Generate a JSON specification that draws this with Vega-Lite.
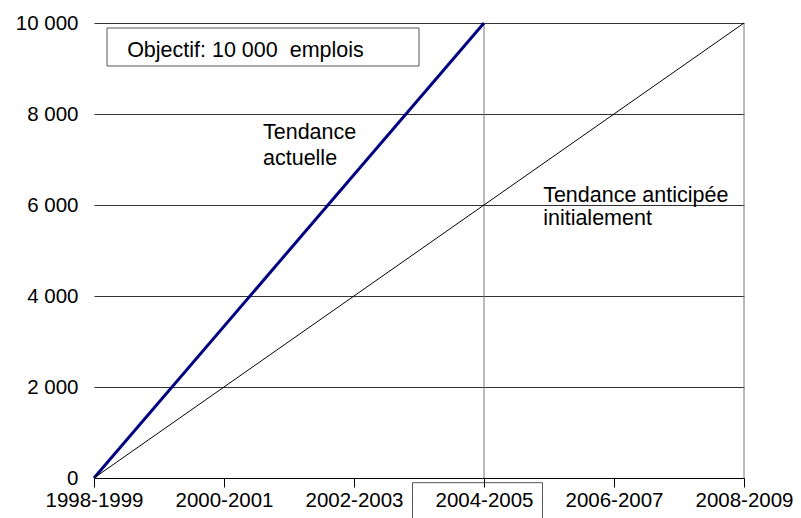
{
  "$schema": "https://vega.github.io/schema/vega-lite/v6.json",
  "width": 650,
  "height": 455,
  "autosize": {"type": "none"},
  "padding": {"left": 94, "top": 23, "right": 57, "bottom": 40},
  "background": "white",
  "config": {
    "view": {"stroke": null},
    "font": "Liberation Sans",
    "text": {"font": "Liberation Sans", "fontSize": 21.5, "color": "black"}
  },
  "datasets": {
    "lines": [
      {"annee": 1998, "emplois": 0, "serie": "Tendance actuelle"},
      {"annee": 2004, "emplois": 10000, "serie": "Tendance actuelle"},
      {"annee": 1998, "emplois": 0, "serie": "Tendance anticipée initialement"},
      {"annee": 2008, "emplois": 10000, "serie": "Tendance anticipée initialement"}
    ],
    "vrules": [
      {"annee": 2004, "bas": 0, "haut": 10000},
      {"annee": 2008, "bas": 0, "haut": 10000}
    ],
    "labels": [
      {"annee": 2000.6, "emplois": 7451, "texte": "Tendance"},
      {"annee": 2000.6, "emplois": 6879, "texte": "actuelle"},
      {"annee": 2004.91, "emplois": 6066, "texte": "Tendance anticipée"},
      {"annee": 2004.91, "emplois": 5560, "texte": "initialement"},
      {"annee": 1998.51, "emplois": 9253, "texte": "Objectif: 10 000 \u00a0emplois"}
    ],
    "boxObjectif": [
      {"x1": 1998.2, "x2": 2003.0, "y1": 9055, "y2": 9890}
    ],
    "boxEtiquette": [
      {"x1": 2002.9, "x2": 2004.9, "y1": -1500, "y2": -103}
    ]
  },
  "layer": [
    {
      "data": {"name": "lines"},
      "mark": {"type": "line", "strokeWidth": 0},
      "encoding": {
        "x": {
          "field": "annee", "type": "quantitative",
          "scale": {"domain": [1998, 2008], "nice": false, "zero": false},
          "axis": {
            "title": null, "values": [1998, 2000, 2002, 2004, 2006, 2008],
            "labelExpr": "datum.value + '-' + (datum.value + 1)",
            "grid": false, "domainColor": "black", "domainWidth": 1,
            "tickColor": "black", "tickSize": 9, "labelPadding": 3,
            "labelFontSize": 20.5, "labelFont": "Liberation Sans", "labelColor": "black",
            "labelFlush": false, "labelOverlap": false
          }
        },
        "y": {
          "field": "emplois", "type": "quantitative",
          "scale": {"domain": [0, 10000], "nice": false},
          "axis": {
            "title": null, "values": [0, 2000, 4000, 6000, 8000, 10000],
            "labelExpr": "replace(format(datum.value, ','), ',', ' ')",
            "domain": false, "ticks": false, "tickSize": 0, "labelPadding": 16,
            "grid": true, "gridColor": "#333333", "gridWidth": 1, "gridOpacity": 1,
            "labelFontSize": 20.5, "labelFont": "Liberation Sans", "labelColor": "black",
            "labelFlush": false, "labelOverlap": false
          }
        },
        "detail": {"field": "serie"}
      }
    },
    {
      "data": {"name": "vrules"},
      "mark": {"type": "rule", "color": "#777777", "strokeWidth": 1},
      "encoding": {
        "x": {"field": "annee", "type": "quantitative"},
        "y": {"field": "bas", "type": "quantitative"},
        "y2": {"field": "haut"}
      }
    },
    {
      "data": {"name": "boxObjectif"},
      "mark": {"type": "rect", "fill": "white", "stroke": "#555555", "strokeWidth": 1},
      "encoding": {
        "x": {"field": "x1", "type": "quantitative"},
        "x2": {"field": "x2"},
        "y": {"field": "y1", "type": "quantitative"},
        "y2": {"field": "y2"}
      }
    },
    {
      "data": {"name": "boxEtiquette"},
      "mark": {"type": "rect", "fill": null, "fillOpacity": 0, "stroke": "#555555", "strokeWidth": 1, "clip": false},
      "encoding": {
        "x": {"field": "x1", "type": "quantitative"},
        "x2": {"field": "x2"},
        "y": {"field": "y1", "type": "quantitative"},
        "y2": {"field": "y2"}
      }
    },
    {
      "data": {"name": "lines"},
      "mark": {"type": "line", "clip": false},
      "encoding": {
        "x": {"field": "annee", "type": "quantitative"},
        "y": {"field": "emplois", "type": "quantitative"},
        "color": {
          "field": "serie", "type": "nominal",
          "scale": {"domain": ["Tendance actuelle", "Tendance anticipée initialement"], "range": ["#000080", "#000000"]},
          "legend": null
        },
        "strokeWidth": {
          "field": "serie", "type": "nominal",
          "scale": {"domain": ["Tendance actuelle", "Tendance anticipée initialement"], "range": [3, 1]},
          "legend": null
        }
      }
    },
    {
      "data": {"name": "labels"},
      "mark": {"type": "text", "align": "left", "baseline": "alphabetic"},
      "encoding": {
        "x": {"field": "annee", "type": "quantitative"},
        "y": {"field": "emplois", "type": "quantitative"},
        "text": {"field": "texte"}
      }
    }
  ]
}
